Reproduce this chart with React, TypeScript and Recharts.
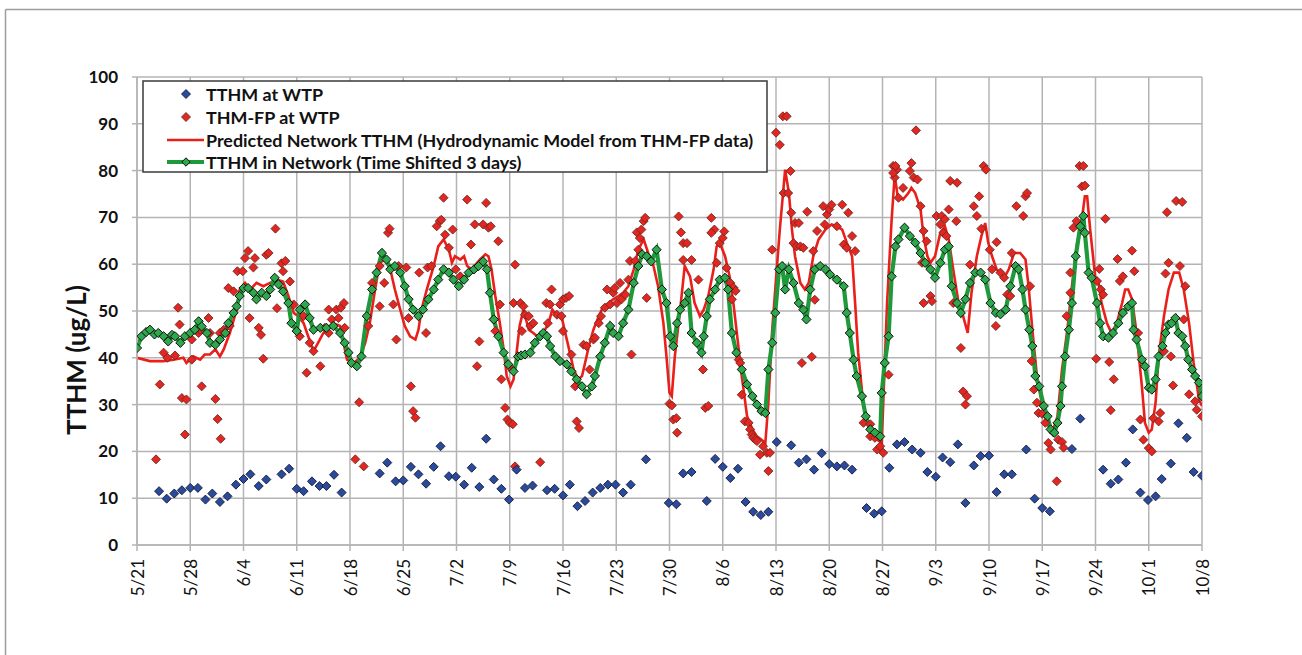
import React from 'react';
import { ComposedChart, Line, Scatter, XAxis, YAxis, CartesianGrid } from 'recharts';

const FONT = 'Lato, "Open Sans", sans-serif';

// x values are days counted from 5/21
const dayTicks = [0, 7, 14, 21, 28, 35, 42, 49, 56, 63, 70, 77, 84, 91, 98, 105, 112, 119, 126, 133, 140];
const dateLabels = ['5/21', '5/28', '6/4', '6/11', '6/18', '6/25', '7/2', '7/9', '7/16', '7/23', '7/30', '8/6', '8/13', '8/20', '8/27', '9/3', '9/10', '9/17', '9/24', '10/1', '10/8'];
const valueTicks = [0, 10, 20, 30, 40, 50, 60, 70, 80, 90, 100];

const seriesNames = [
  'TTHM at WTP',
  'THM-FP at WTP',
  'Predicted Network TTHM (Hydrodynamic Model from THM-FP data)',
  'TTHM in Network (Time Shifted 3 days)',
];

// TTHM at WTP [day, ug/L]
const wtpTTHM = [
  [2.9, 11.5], [3.9, 9.9], [4.9, 11.0], [5.9, 11.7], [7.0, 12.2], [8.0, 12.2], [9.0, 9.7], [9.9, 11.0], [10.9, 9.2], [11.9, 10.4],
  [13.0, 12.9], [14.0, 14.1], [14.9, 15.1], [16.0, 12.6], [17.0, 14.0], [19.0, 15.1], [20.0, 16.3], [21.0, 12.0], [21.9, 11.5], [23.0, 13.6],
  [24.0, 12.6], [24.9, 12.6], [25.9, 15.0], [26.9, 11.2], [31.9, 15.3], [32.9, 17.6], [34.0, 13.6], [35.0, 13.8], [36.0, 16.7], [37.0, 15.1],
  [38.0, 13.1], [39.0, 16.7], [39.9, 21.1], [41.0, 14.7], [41.9, 14.6], [43.0, 12.9], [44.0, 16.5], [45.0, 12.4], [45.9, 22.7], [46.9, 14.0],
  [47.9, 12.0], [48.9, 9.7], [49.9, 16.1], [51.0, 12.2], [52.0, 12.7], [53.9, 11.7], [54.9, 12.0], [56.0, 10.6], [56.9, 12.9], [57.9, 8.3],
  [58.9, 9.4], [59.9, 11.2], [60.9, 12.2], [61.9, 12.9], [62.9, 12.9], [63.9, 11.2], [64.9, 12.9], [66.9, 18.3], [69.9, 9.0], [70.9, 8.7],
  [71.8, 15.3], [72.9, 15.6], [74.9, 9.4], [76.0, 18.4], [77.0, 16.7], [78.0, 14.3], [79.0, 16.3], [80.0, 9.2], [81.0, 7.1], [82.0, 6.4],
  [83.0, 7.1], [84.1, 22.0], [86.0, 21.3], [87.0, 17.6], [88.0, 18.3], [89.0, 16.1], [90.0, 19.6], [91.0, 17.3], [92.0, 16.8], [93.0, 17.0],
  [94.0, 16.1], [95.9, 7.9], [96.9, 6.7], [97.9, 7.2], [98.9, 16.5], [99.9, 21.5], [100.9, 22.0], [101.9, 20.4], [103.0, 19.7], [103.9, 15.6],
  [105.0, 14.6], [105.9, 18.7], [106.9, 17.7], [107.9, 21.5], [108.9, 9.0], [110.0, 17.0], [110.9, 19.0], [112.0, 19.1], [113.0, 11.3], [114.0, 15.1],
  [115.0, 15.1], [116.9, 20.4], [118.0, 9.9], [119.0, 7.9], [120.0, 7.2], [122.9, 20.5], [124.0, 27.0], [127.0, 16.1], [128.0, 13.1], [129.0, 14.0],
  [130.0, 17.6], [130.9, 24.7], [131.9, 11.2], [132.9, 9.6], [133.9, 10.4], [134.7, 14.1], [135.9, 17.4], [136.9, 26.0], [138.0, 22.9], [138.9, 15.6],
  [140.0, 14.8],
];

// THM-FP at WTP [day, ug/L]
const wtpTHMFP = [
  [2.5, 18.3], [3.0, 34.3], [3.5, 41.1], [4.0, 40.0], [5.0, 40.5], [5.4, 50.7], [5.6, 47.1], [5.9, 31.4], [6.3, 23.6], [6.5, 31.1],
  [7.2, 39.6], [7.2, 43.9], [8.1, 45.3], [8.3, 46.0], [8.5, 33.9], [9.4, 48.5], [9.6, 45.3], [10.3, 31.2], [10.6, 26.9], [11.0, 22.7],
  [10.9, 45.3], [11.4, 46.0], [12.0, 54.9], [12.2, 46.8], [12.7, 54.2], [13.2, 58.5], [13.9, 58.5], [14.2, 61.3], [14.6, 62.8], [14.8, 48.5],
  [15.3, 59.3], [15.5, 61.3], [16.0, 46.4], [16.3, 44.9], [16.6, 39.8], [17.0, 62.0], [17.3, 62.4], [18.2, 67.6], [18.4, 50.6], [19.0, 60.2],
  [19.2, 58.5], [19.5, 60.7], [20.1, 56.3], [20.6, 51.4], [21.0, 45.7], [21.4, 44.6], [21.9, 48.9], [22.3, 36.8], [22.7, 43.2], [23.2, 41.4],
  [24.1, 38.2], [24.7, 46.4], [25.2, 50.3], [25.2, 45.3], [25.6, 48.2], [26.2, 50.3], [26.5, 48.5], [26.8, 50.7], [27.2, 51.7], [27.3, 46.4],
  [28.7, 18.3], [29.2, 30.5], [29.8, 16.8], [30.4, 46.8], [30.9, 56.0], [31.9, 51.0], [31.9, 59.6], [32.5, 56.0], [33.0, 66.7], [33.2, 67.6],
  [33.7, 51.4], [34.1, 43.9], [34.4, 59.6], [35.4, 59.3], [35.7, 48.5], [36.0, 33.9], [36.3, 28.6], [36.6, 27.2], [37.1, 58.2], [38.0, 45.3],
  [38.2, 59.3], [38.7, 59.6], [39.4, 68.1], [39.8, 69.2], [40.0, 69.5], [40.3, 74.2], [40.5, 66.3], [41.0, 63.5], [41.5, 67.4], [41.9, 58.9],
  [42.5, 57.4], [43.4, 73.8], [43.9, 64.2], [44.4, 68.5], [44.7, 38.2], [45.0, 43.5], [45.5, 68.5], [45.9, 73.1], [46.2, 67.8], [46.5, 68.1],
  [46.9, 48.2], [47.1, 45.7], [47.5, 64.9], [47.7, 51.4], [47.9, 35.4], [48.4, 29.3], [48.7, 26.8], [49.0, 26.1], [49.4, 25.8], [49.7, 59.9],
  [49.7, 16.8], [49.3, 37.5], [49.5, 51.7], [50.4, 51.7], [50.8, 51.0], [50.6, 45.7], [51.0, 49.2], [51.5, 48.9], [51.7, 46.8], [52.1, 47.4],
  [53.0, 17.7], [53.8, 51.7], [54.3, 51.4], [54.5, 54.6], [54.0, 47.4], [55.2, 49.2], [55.6, 51.4], [55.8, 48.9], [56.0, 52.5], [56.4, 52.8],
  [56.8, 53.2], [56.0, 45.7], [57.1, 40.7], [57.6, 33.9], [57.8, 26.4], [58.1, 25.0], [58.7, 42.8], [59.1, 42.5], [59.5, 37.5], [60.0, 43.9],
  [60.2, 44.3], [60.7, 47.4], [61.0, 48.9], [61.5, 50.7], [61.8, 54.6], [62.2, 51.4], [62.6, 53.9], [62.8, 54.9], [63.1, 51.7], [63.5, 56.0],
  [63.7, 52.5], [64.2, 53.5], [64.6, 56.7], [65.0, 40.7], [64.8, 60.7], [65.5, 60.7], [65.9, 63.1], [65.7, 66.8], [66.1, 65.6], [66.3, 67.4],
  [66.6, 69.2], [66.8, 69.9], [67.0, 52.8], [70.0, 30.2], [70.3, 29.8], [70.5, 26.8], [70.9, 27.1], [71.0, 24.0], [71.2, 70.2], [71.5, 66.8],
  [71.8, 64.5], [72.3, 64.5], [71.8, 60.9], [72.9, 60.9], [73.8, 56.7], [74.4, 37.5], [74.7, 29.3], [75.1, 29.7], [75.5, 69.9], [75.9, 67.4],
  [75.5, 66.7], [76.2, 60.3], [76.6, 64.5], [77.0, 65.6], [77.2, 67.0], [77.5, 59.2], [78.0, 56.0], [78.2, 52.5], [78.4, 55.0], [78.7, 54.3],
  [79.1, 39.6], [79.3, 38.9], [79.5, 32.1], [79.9, 26.4], [80.4, 26.1], [80.6, 24.7], [80.8, 23.6], [81.0, 22.9], [81.3, 22.5], [81.5, 22.2],
  [81.9, 19.3], [82.3, 21.1], [82.8, 19.7], [83.0, 15.8], [83.2, 19.7], [83.5, 63.1], [84.0, 88.1], [84.5, 85.5], [84.9, 91.6], [85.4, 91.6],
  [85.0, 75.2], [85.6, 75.2], [85.9, 79.9], [86.0, 71.0], [86.5, 68.8], [87.0, 68.8], [86.3, 64.5], [86.7, 63.8], [87.2, 63.8], [87.6, 63.5],
  [88.1, 71.2], [87.4, 38.9], [88.7, 40.2], [88.9, 62.8], [89.1, 52.4], [89.4, 67.1], [90.2, 72.4], [90.4, 68.5], [90.7, 70.6], [91.0, 71.7],
  [91.3, 72.7], [92.0, 68.1], [92.7, 72.7], [93.5, 71.0], [92.9, 64.2], [93.3, 63.5], [94.0, 66.0], [94.4, 62.8], [95.5, 26.1], [96.4, 25.8],
  [96.4, 23.2], [97.0, 22.9], [97.3, 20.4], [97.7, 21.1], [98.1, 19.7], [98.8, 36.4], [99.4, 81.0], [99.9, 80.2], [99.6, 78.5], [100.1, 74.2],
  [99.7, 81.0], [99.4, 79.5], [100.7, 76.3], [101.6, 79.9], [101.8, 81.6], [102.4, 88.6], [102.1, 78.5], [102.6, 78.1], [103.0, 72.4], [103.4, 67.1],
  [103.8, 64.9], [103.2, 60.3], [103.4, 51.7], [104.3, 53.2], [104.5, 52.1], [105.1, 70.3], [105.6, 68.5], [105.8, 70.3], [106.2, 69.6], [106.0, 66.7],
  [106.4, 66.0], [106.7, 71.7], [106.9, 77.8], [107.8, 77.4], [107.7, 69.2], [107.3, 51.7], [108.3, 42.1], [108.6, 32.8], [109.1, 31.8], [108.9, 30.0],
  [109.5, 59.9], [110.0, 72.4], [110.4, 70.3], [110.7, 74.5], [111.0, 67.6], [111.3, 81.0], [111.6, 80.2], [112.1, 63.1], [112.4, 58.9], [113.0, 64.7],
  [112.9, 46.8], [113.5, 58.2], [114.0, 57.1], [114.4, 53.5], [114.8, 53.2], [115.0, 62.4], [115.6, 72.4], [116.5, 70.3], [116.8, 74.5], [117.0, 75.2],
  [117.4, 55.3], [117.6, 39.3], [117.9, 33.2], [118.3, 30.4], [118.5, 28.2], [119.0, 28.0], [119.4, 26.1], [119.8, 21.8], [120.1, 20.4], [120.5, 24.0],
  [120.9, 13.6], [121.1, 22.5], [121.6, 22.0], [121.8, 20.8], [122.2, 48.9], [122.7, 58.2], [123.1, 67.8], [123.5, 69.2], [123.9, 81.0], [124.4, 81.0],
  [124.2, 76.6], [122.7, 53.9], [124.6, 76.8], [126.2, 56.4], [126.5, 59.0], [126.7, 54.6], [127.0, 53.5], [127.3, 69.7], [126.1, 39.8], [127.8, 39.1],
  [128.0, 28.8], [128.4, 35.4], [128.9, 61.1], [129.2, 56.4], [129.6, 57.4], [130.8, 62.9], [131.1, 58.5], [131.6, 45.3], [131.9, 26.8], [132.3, 22.5],
  [133.0, 20.7], [133.4, 20.0], [133.6, 27.1], [134.3, 26.4], [134.5, 28.2], [135.0, 41.4], [135.4, 71.1], [135.6, 60.3], [135.2, 58.0], [136.6, 73.5],
  [137.4, 73.3], [135.9, 40.3], [136.2, 34.1], [137.1, 59.6], [137.8, 55.3], [137.6, 48.2], [138.3, 32.2], [139.1, 30.7], [139.3, 28.9], [140.0, 27.5],
];

// Predicted network TTHM [day, ug/L]
const predictedTTHM = [
  [0, 40.0], [1.7, 39.3], [3.5, 39.3], [4.8, 39.6], [6.1, 40.0], [6.5, 38.9], [7.4, 40.3], [8.3, 39.6], [8.9, 40.7], [9.6, 40.7],
  [10.3, 41.8], [10.9, 40.3], [11.4, 41.8], [12.2, 45.3], [13.1, 50.3], [13.5, 54.6], [14.2, 56.0], [14.9, 54.6], [15.7, 56.0], [16.6, 55.3],
  [17.5, 56.0], [18.4, 56.7], [19.2, 56.3], [19.9, 53.2], [20.6, 49.6], [21.2, 48.9], [21.9, 47.4], [22.5, 44.6], [23.2, 41.4], [23.8, 43.2],
  [24.5, 45.3], [25.8, 47.4], [26.7, 46.8], [27.6, 39.6], [28.5, 38.9], [29.3, 40.0], [30.0, 43.2], [30.6, 47.4], [31.3, 54.6], [31.9, 60.3],
  [32.6, 61.0], [33.3, 58.9], [33.9, 54.6], [34.6, 50.3], [35.2, 46.8], [35.9, 44.6], [36.6, 43.9], [37.0, 46.0], [37.4, 50.3], [38.1, 54.6],
  [39.0, 59.6], [39.6, 63.8], [40.3, 65.3], [41.0, 63.1], [41.4, 60.3], [41.8, 61.7], [42.5, 61.0], [43.0, 61.7], [43.4, 59.6], [44.0, 58.9],
  [44.7, 60.3], [45.1, 61.0], [45.8, 62.1], [46.2, 61.7], [46.6, 58.9], [47.1, 53.2], [47.7, 47.4], [48.2, 41.8], [48.6, 36.1], [49.1, 33.9],
  [49.5, 35.4], [49.9, 41.1], [50.3, 46.8], [50.8, 50.3], [51.5, 46.0], [52.1, 45.3], [52.6, 44.6], [53.4, 45.3], [54.1, 47.4], [54.6, 50.3],
  [55.2, 48.9], [55.8, 48.9], [56.3, 45.3], [56.9, 41.1], [57.4, 37.5], [58.0, 35.4], [58.5, 36.1], [58.9, 38.9], [59.4, 42.5], [60.0, 46.0],
  [60.7, 48.9], [61.3, 51.0], [62.0, 51.7], [62.6, 52.5], [63.3, 53.2], [63.9, 53.9], [64.6, 55.3], [65.3, 58.9], [65.9, 63.1], [66.6, 65.3],
  [67.2, 62.4], [67.9, 59.6], [68.5, 55.3], [69.2, 47.4], [69.6, 40.3], [70.0, 32.5], [70.3, 31.8], [70.7, 40.3], [71.4, 50.3], [72.0, 59.6],
  [72.7, 57.4], [73.3, 51.7], [74.0, 48.9], [74.5, 50.3], [75.1, 53.2], [75.8, 58.9], [76.2, 63.8], [76.6, 64.6], [77.3, 61.7], [77.9, 57.4],
  [78.4, 51.7], [79.1, 41.8], [79.5, 36.1], [80.2, 27.5], [80.9, 24.7], [81.5, 23.2], [82.1, 22.5], [82.6, 21.8], [83.0, 30.4], [83.5, 46.0],
  [84.1, 58.9], [84.5, 67.4], [85.2, 80.2], [85.7, 75.2], [86.1, 67.4], [86.5, 61.7], [87.2, 56.0], [87.8, 54.6], [88.3, 56.0], [88.9, 61.7],
  [89.6, 65.3], [90.5, 67.4], [91.3, 68.5], [92.0, 68.1], [92.7, 67.4], [93.3, 64.6], [94.0, 61.7], [94.4, 51.7], [94.8, 41.1], [95.5, 29.7],
  [96.2, 24.7], [96.8, 23.2], [97.3, 22.5], [97.9, 21.8], [98.6, 51.7], [99.2, 69.5], [99.6, 79.0], [100.0, 74.5], [100.7, 73.8], [101.4, 75.2],
  [101.8, 76.3], [102.3, 75.2], [103.0, 71.7], [103.4, 66.0], [103.9, 61.7], [104.3, 60.3], [104.9, 61.7], [105.6, 66.7], [106.2, 68.1], [106.7, 65.3],
  [107.3, 58.9], [108.0, 51.7], [108.6, 48.9], [109.2, 45.3], [109.7, 53.9], [110.4, 61.7], [111.0, 66.0], [111.5, 68.8], [111.9, 64.6], [112.4, 61.7],
  [113.0, 58.9], [113.7, 57.8], [114.1, 57.4], [114.6, 58.9], [115.3, 62.4], [116.1, 62.4], [116.8, 61.0], [117.2, 55.3], [117.7, 46.0], [118.3, 36.1],
  [119.0, 29.7], [119.6, 26.1], [120.3, 24.0], [121.0, 27.5], [121.6, 37.5], [122.3, 46.0], [122.9, 55.3], [123.6, 64.6], [124.2, 69.5], [124.6, 74.5],
  [124.9, 74.5], [125.3, 67.4], [126.0, 56.7], [126.4, 56.0], [126.8, 51.7], [127.5, 47.4], [128.1, 45.3], [128.8, 47.4], [129.5, 51.7], [129.9, 54.6],
  [130.3, 54.6], [130.8, 52.5], [131.4, 45.3], [132.1, 33.9], [132.5, 26.1], [133.0, 24.0], [133.4, 24.7], [133.9, 30.4], [134.3, 40.3], [135.0, 48.9],
  [135.6, 54.6], [136.3, 58.2], [137.0, 58.2], [137.6, 54.6], [138.3, 47.4], [138.9, 38.9], [139.6, 31.1], [140.0, 29.7],
];

// TTHM in network, time shifted 3 days [day, ug/L]
const networkTTHM = [
  [0, 42.1], [0.6, 44.6], [1.2, 45.5], [1.7, 46.0], [2.3, 45.0], [2.8, 45.3], [3.5, 44.6], [4.1, 43.5], [4.6, 44.9], [5.0, 44.6],
  [5.7, 43.2], [6.3, 44.6], [7.0, 45.3], [7.6, 46.0], [8.1, 47.8], [8.5, 46.7], [9.2, 45.3], [9.6, 43.2], [10.3, 42.8], [10.9, 43.9],
  [11.6, 45.3], [12.0, 47.4], [12.7, 49.6], [13.1, 51.0], [13.5, 53.2], [14.0, 54.9], [14.6, 54.9], [15.3, 53.9], [15.7, 52.5], [16.4, 53.9],
  [17.0, 53.2], [17.5, 54.6], [18.1, 57.1], [18.6, 55.7], [19.2, 54.2], [19.9, 51.7], [20.3, 47.4], [21.0, 45.7], [21.4, 50.3], [22.1, 51.4],
  [22.7, 48.5], [23.2, 46.0], [24.1, 46.4], [24.9, 46.4], [25.8, 46.8], [26.7, 45.3], [27.3, 43.2], [27.8, 41.1], [28.2, 38.9], [28.9, 38.2],
  [29.5, 40.3], [30.2, 48.9], [30.9, 54.6], [31.5, 58.2], [32.2, 62.4], [32.8, 61.0], [33.3, 58.9], [33.9, 59.6], [34.6, 58.2], [35.2, 55.3],
  [35.7, 52.5], [36.3, 50.3], [37.0, 48.9], [37.6, 50.3], [38.3, 52.5], [39.0, 54.6], [39.6, 56.7], [40.3, 58.9], [41.0, 58.2], [41.6, 56.7],
  [42.3, 55.3], [43.0, 56.7], [43.6, 58.2], [44.3, 58.9], [44.9, 59.6], [45.5, 60.6], [46.0, 58.9], [46.4, 53.9], [46.9, 48.2], [47.5, 44.6],
  [48.2, 41.1], [48.8, 38.6], [49.5, 37.1], [50.1, 40.3], [50.5, 40.5], [51.0, 40.7], [51.7, 41.1], [52.3, 43.2], [53.0, 44.6], [53.4, 45.3],
  [53.9, 44.6], [54.3, 42.5], [55.0, 40.3], [55.6, 39.3], [56.5, 38.6], [57.1, 37.1], [57.8, 35.4], [58.5, 33.9], [59.1, 32.2], [59.8, 33.9],
  [60.2, 36.1], [60.9, 40.3], [61.5, 43.2], [62.2, 46.8], [62.6, 45.3], [63.3, 44.6], [63.9, 47.4], [64.6, 50.3], [65.3, 56.0], [65.9, 59.6],
  [66.4, 62.1], [67.0, 61.7], [67.6, 60.6], [68.3, 63.1], [69.0, 54.6], [69.6, 51.7], [70.1, 44.6], [70.5, 42.5], [71.0, 47.4], [71.4, 50.3],
  [72.0, 51.7], [72.5, 53.9], [72.9, 45.3], [73.6, 43.2], [74.2, 41.1], [74.5, 44.6], [74.9, 48.9], [75.3, 52.5], [76.0, 54.6], [76.6, 56.7],
  [77.3, 57.1], [77.7, 54.6], [78.2, 45.3], [78.8, 41.1], [79.5, 37.5], [80.2, 34.3], [80.9, 31.8], [81.5, 30.0], [82.1, 28.6], [82.6, 28.2],
  [83.0, 37.5], [83.5, 43.2], [83.9, 49.6], [84.4, 58.9], [84.8, 59.6], [85.2, 54.6], [85.7, 58.9], [86.3, 56.0], [87.0, 51.7], [87.6, 50.3],
  [88.0, 48.2], [88.5, 54.6], [89.1, 58.9], [89.8, 59.6], [90.5, 58.9], [91.1, 57.8], [92.0, 56.7], [92.9, 55.3], [93.3, 49.6], [93.7, 45.3],
  [94.2, 39.6], [94.6, 36.1], [95.3, 31.8], [95.8, 27.5], [96.4, 24.7], [97.0, 24.0], [97.7, 23.2], [97.9, 32.5], [98.3, 38.9], [98.8, 44.6],
  [99.2, 57.4], [99.7, 63.8], [100.1, 65.3], [100.9, 67.8], [101.6, 66.0], [102.3, 64.6], [103.0, 62.4], [103.6, 60.3], [104.3, 58.9], [104.9, 57.1],
  [105.6, 60.3], [106.2, 63.1], [106.7, 63.8], [107.1, 55.3], [107.8, 51.7], [108.3, 49.6], [108.9, 52.5], [109.5, 56.0], [110.2, 58.2], [110.9, 58.2],
  [111.5, 56.7], [112.2, 51.7], [112.9, 49.6], [113.5, 49.3], [114.2, 50.3], [114.8, 55.3], [115.5, 59.6], [115.9, 58.9], [116.4, 54.6], [116.8, 50.3],
  [117.3, 46.0], [117.7, 42.5], [118.1, 36.1], [118.6, 33.9], [119.2, 29.7], [119.7, 27.5], [120.1, 24.7], [120.6, 24.0], [121.0, 26.1], [121.4, 29.7],
  [121.6, 33.9], [122.0, 40.3], [122.5, 46.0], [122.9, 51.7], [123.4, 61.7], [124.0, 68.1], [124.4, 70.3], [124.6, 66.7], [125.1, 58.2], [125.5, 57.1],
  [126.2, 51.7], [126.6, 47.4], [127.0, 44.6], [127.7, 44.3], [128.3, 45.3], [129.0, 47.4], [129.6, 49.6], [130.3, 51.0], [130.8, 51.7], [131.0, 46.0],
  [131.4, 43.9], [132.1, 39.6], [132.5, 38.2], [133.0, 33.6], [133.4, 33.2], [133.9, 35.4], [134.3, 40.3], [134.8, 42.5], [135.2, 45.3], [135.6, 47.1],
  [136.0, 47.4], [136.5, 48.5], [136.9, 45.3], [137.4, 44.6], [137.8, 42.5], [138.2, 39.6], [138.7, 37.5], [139.1, 36.1], [139.6, 34.7], [140.0, 31.8],
];

const BLUE = '#2a4a9c';
const RED = '#e3261f';
const GREEN = '#2ea84c';
const GREEN_LINE = '#1f9a3a';
const RED_LINE = '#ea1f1a';
const GRID = '#b4b4b4';

const toRows = (pts: number[][]) => pts.map(([d, v]) => ({ d, v }));

const diamondPoints = (cx: number, cy: number, r: number) =>
  `${cx},${cy - r} ${cx + r},${cy} ${cx},${cy + r} ${cx - r},${cy}`;

const makeDiamond = (fill: string, stroke: string, r: number) => (props: any) => {
  const { cx, cy } = props;
  if (cx == null || cy == null || isNaN(cx) || isNaN(cy)) return <g />;
  return <polygon points={diamondPoints(cx, cy, r)} fill={fill} stroke={stroke} strokeWidth={0.9} />;
};

const BlueDiamond = makeDiamond(BLUE, '#15193a', 4.5);
const RedDiamond = makeDiamond(RED, '#6e2a26', 4.5);

const GreenDot = (props: any) => {
  const { cx, cy, index } = props;
  if (cx == null || cy == null) return <g key={`gd${index}`} />;
  return (
    <polygon key={`gd${index}`} points={diamondPoints(cx, cy, 4.6)} fill={GREEN} stroke="#111" strokeWidth={1} />
  );
};

const XTick = (props: any) => {
  const { x, y, payload } = props;
  const i = dayTicks.indexOf(payload.value);
  const ty = y + 6;
  return (
    <text
      x={x}
      y={ty}
      transform={`rotate(-90 ${x} ${ty})`}
      textAnchor="end"
      dominantBaseline="central"
      fontFamily={FONT}
      fontSize={17}
      fill="#111"
    >
      {i >= 0 ? dateLabels[i] : ''}
    </text>
  );
};

export default function App() {
  const legendX = 143;
  const legendY = 81;
  const rowY = [94, 117, 140, 162];
  return (
    <div style={{ position: 'absolute', left: 0, top: 0, width: 1302, height: 655, overflow: 'hidden', background: '#fff' }}>
      <ComposedChart width={1302} height={655} margin={{ top: 77, right: 100, bottom: 50, left: 77 }}>
        <CartesianGrid stroke={GRID} strokeWidth={1.5} horizontalValues={valueTicks} verticalValues={dayTicks} />
        <XAxis
          dataKey="d"
          type="number"
          domain={[0, 140]}
          ticks={dayTicks}
          interval={0}
          height={60}
          tickSize={6}
          tickLine={{ stroke: GRID, strokeWidth: 1.5 }}
          axisLine={{ stroke: GRID, strokeWidth: 1.5 }}
          tick={<XTick />}
          allowDataOverflow
        />
        <YAxis
          type="number"
          domain={[0, 100]}
          ticks={valueTicks}
          interval={0}
          width={60}
          tickSize={5}
          tickMargin={14}
          tickLine={{ stroke: GRID, strokeWidth: 1.5 }}
          axisLine={{ stroke: GRID, strokeWidth: 1.5 }}
          tick={{ fill: '#111', fontSize: 17, fontWeight: 700, fontFamily: FONT }}
          allowDataOverflow
        />
        <Scatter name={seriesNames[1]} data={toRows(wtpTHMFP)} dataKey="v" shape={RedDiamond} isAnimationActive={false} />
        <Scatter name={seriesNames[0]} data={toRows(wtpTTHM)} dataKey="v" shape={BlueDiamond} isAnimationActive={false} />
        <Line
          name={seriesNames[2]}
          data={toRows(predictedTTHM)}
          dataKey="v"
          type="linear"
          stroke={RED_LINE}
          strokeWidth={2.6}
          dot={false}
          activeDot={false}
          isAnimationActive={false}
        />
        <Line
          name={seriesNames[3]}
          data={toRows(networkTTHM)}
          dataKey="v"
          type="linear"
          stroke={GREEN_LINE}
          strokeWidth={4.2}
          dot={GreenDot}
          activeDot={false}
          isAnimationActive={false}
        />
      </ComposedChart>
      <svg
        width={1302}
        height={655}
        style={{ position: 'absolute', left: 0, top: 0, pointerEvents: 'none' }}
      >
        <line x1={5.5} y1={9.5} x2={1302} y2={9.5} stroke="#9c9c9c" strokeWidth={1.5} />
        <line x1={5.5} y1={9.5} x2={5.5} y2={655} stroke="#9c9c9c" strokeWidth={1.5} />
        <text
          x={76}
          y={360}
          transform="rotate(-90 76 360)"
          textAnchor="middle"
          dominantBaseline="central"
          fontFamily={FONT}
          fontWeight={700}
          fontSize={26}
          fill="#111"
        >
          TTHM (ug/L)
        </text>
        <rect x={legendX} y={legendY} width={624} height={91} fill="#fff" stroke="#3a3a3a" strokeWidth={1.5} />
        <polygon points={diamondPoints(186, rowY[0], 4.5)} fill={BLUE} stroke="#15193a" strokeWidth={0.9} />
        <polygon points={diamondPoints(186, rowY[1], 4.5)} fill={RED} stroke="#6e2a26" strokeWidth={0.9} />
        <line x1={167} y1={rowY[2]} x2={204} y2={rowY[2]} stroke={RED_LINE} strokeWidth={2.6} />
        <line x1={167} y1={rowY[3]} x2={204} y2={rowY[3]} stroke={GREEN_LINE} strokeWidth={4.2} />
        <polygon points={diamondPoints(186, rowY[3], 4.2)} fill={GREEN} stroke="#111" strokeWidth={1} />
        {seriesNames.map((s, i) => (
          <text
            key={s}
            x={206}
            y={rowY[i]}
            dominantBaseline="central"
            fontFamily={FONT}
            fontWeight={700}
            fontSize={17.9}
            fill="#111"
          >
            {s}
          </text>
        ))}
      </svg>
    </div>
  );
}
